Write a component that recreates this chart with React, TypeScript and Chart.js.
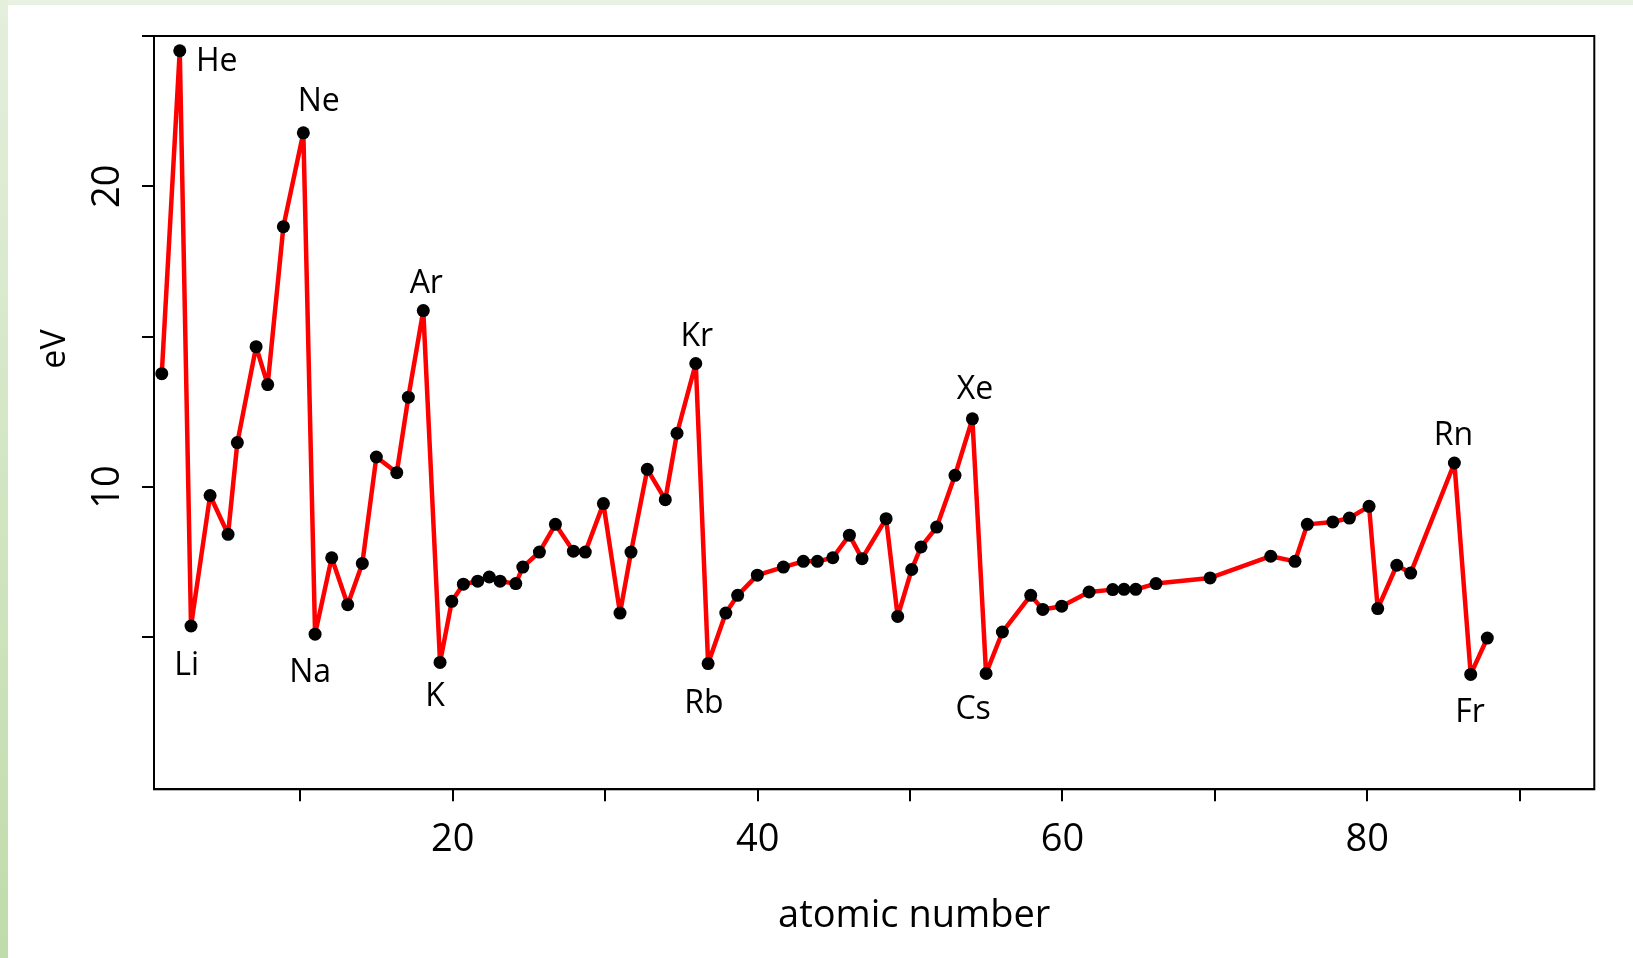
import React, { useEffect, useRef } from "react";
import { Chart, registerables } from "chart.js";

Chart.register(...registerables);

// x positions of the points (atomic number axis)
const atomicNumber = [
  0.9, 2.08, 2.82, 4.07, 5.25, 5.86, 7.09, 7.85, 8.88, 10.19,
  10.96, 12.05, 13.1, 14.06, 14.98, 16.32, 17.08, 18.06, 19.16, 19.93,
  20.69, 21.63, 22.39, 23.1, 24.13, 24.59, 25.68, 26.73, 27.91, 28.69,
  29.88, 30.97, 31.69, 32.76, 33.94, 34.71, 35.94, 36.75, 37.91, 38.69,
  39.98, 41.69, 43.0, 43.92, 44.93, 46.02, 46.85, 48.43, 49.19, 50.11,
  50.72, 51.75, 52.95, 54.09, 54.99, 56.06, 57.92, 58.71, 59.95, 61.75,
  63.3, 64.04, 64.81, 66.14, 69.69, 73.67, 75.26, 76.07, 77.74, 78.83,
  80.12, 80.69, 81.94, 82.85, 85.72, 86.79, 87.88,
];

// first ionization energy (eV)
const ionizationEV = [
  13.77, 24.51, 5.38, 9.72, 8.43, 11.48, 14.67, 13.41, 18.66, 21.78,
  5.11, 7.65, 6.09, 7.46, 11.0, 10.48, 12.99, 15.87, 4.17, 6.2,
  6.77, 6.87, 7.01, 6.87, 6.79, 7.34, 7.84, 8.76, 7.87, 7.84,
  9.45, 5.81, 7.84, 10.59, 9.58, 11.79, 14.11, 4.13, 5.81, 6.4,
  7.07, 7.34, 7.53, 7.53, 7.65, 8.4, 7.62, 8.95, 5.7, 7.26,
  8.01, 8.67, 10.39, 12.27, 3.8, 5.18, 6.4, 5.93, 6.04, 6.51,
  6.59, 6.6, 6.6, 6.79, 6.98, 7.7, 7.53, 8.76, 8.84, 8.97,
  9.36, 5.96, 7.4, 7.14, 10.8, 3.77, 4.98,
];

// tick labels
const xTickLabels = [20, 40, 60, 80];
const yTickLabels = [10, 20];

// element labels and which point they annotate
const elementNames = ["He", "Ne", "Ar", "Kr", "Xe", "Rn", "Li", "Na", "K", "Rb", "Cs", "Fr"];
const elementPointIndex = [1, 9, 17, 36, 53, 74, 2, 10, 18, 37, 54, 75];

// label placement (pixel offset of the text centre from its point)
const labelOffsetX = [37, 15.4, 3, 1, 2.7, -1, -4.3, -5, -5, -4.2, -13, -0.7];
const labelOffsetY = [9, -33, -29.2, -29.2, -31.6, -29.7, 37.1, 36.8, 31.7, 37.5, 34.2, 36];

const FONT = "'Open Sans', 'Noto Sans', sans-serif";

const overlayPlugin = {
  id: "overlay",
  afterDraw(chart: any) {
    const ctx = chart.ctx as CanvasRenderingContext2D;
    const { left, right, top, bottom } = chart.chartArea;
    const ys = chart.scales.y;
    ctx.save();
    // plot box
    ctx.strokeStyle = "#000";
    ctx.lineWidth = 2;
    ctx.strokeRect(left, top, right - left, bottom - top);

    ctx.fillStyle = "#000";
    // y tick labels (rotated, as in R)
    ctx.font = `38px ${FONT}`;
    ctx.textAlign = "center";
    ctx.textBaseline = "alphabetic";
    for (const v of yTickLabels) {
      const py = ys.getPixelForValue(v);
      ctx.save();
      ctx.translate(left - 34.7, py);
      ctx.rotate(-Math.PI / 2);
      ctx.fillText(String(v), 0, 0);
      ctx.restore();
    }

    // axis titles
    ctx.font = `38px ${FONT}`;
    ctx.fillText("atomic number", (left + right) / 2 + 40, bottom + 137.4);
    ctx.save();
    ctx.font = `34px ${FONT}`;
    ctx.translate(64.5, 349);
    ctx.rotate(-Math.PI / 2);
    ctx.fillText("eV", 0, 0);
    ctx.restore();

    // element labels
    const meta = chart.getDatasetMeta(0);
    ctx.font = `32px ${FONT}`;
    const capH = 32 * 0.714;
    elementNames.forEach((name, i) => {
      const el = meta.data[elementPointIndex[i]];
      if (!el) return;
      ctx.fillText(name, el.x + labelOffsetX[i], el.y + labelOffsetY[i] + capH / 2);
    });
    ctx.restore();
  },
};

export default function App() {
  const ref = useRef<HTMLCanvasElement>(null);

  useEffect(() => {
    const canvas = ref.current;
    if (!canvas) return;
    const points = atomicNumber.map((x, i) => ({ x, y: ionizationEV[i] }));
    const chart = new Chart(canvas, {
      type: "line",
      data: {
        datasets: [
          {
            data: points,
            borderColor: "#ff0000",
            borderWidth: 4.5,
            borderJoinStyle: "round",
            borderCapStyle: "round",
            pointRadius: 6.5,
            pointHoverRadius: 6.5,
            pointBackgroundColor: "#000",
            pointBorderColor: "#000",
            pointBorderWidth: 0,
            tension: 0,
            fill: false,
          },
        ],
      },
      options: {
        responsive: false,
        animation: false,
        devicePixelRatio: 1,
        events: [],
        layout: { padding: { left: 0, top: 36, right: 38.7, bottom: 0 } },
        plugins: { legend: { display: false }, tooltip: { enabled: false } },
        scales: {
          x: {
            type: "linear",
            min: 0.39,
            max: 94.9,
            afterFit: (s: any) => {
              s.height = 168.7;
            },
            ticks: {
              stepSize: 10,
              includeBounds: false,
              autoSkip: false,
              maxRotation: 0,
              minRotation: 0,
              padding: 16,
              color: "#000",
              font: { family: FONT, size: 38 },
              callback: (v: any) => (xTickLabels.includes(Number(v)) ? String(v) : ""),
            },
            grid: {
              drawOnChartArea: false,
              drawTicks: true,
              tickLength: 12,
              tickWidth: 2,
              tickColor: "#000",
              color: "#000",
              lineWidth: 2,
            },
            border: { display: true, color: "#000", width: 2 },
          },
          y: {
            type: "linear",
            min: -0.05,
            max: 25,
            afterFit: (s: any) => {
              s.width = 154;
            },
            ticks: {
              stepSize: 5,
              includeBounds: false,
              padding: 0,
              font: { family: FONT, size: 10 },
              callback: (v: any) => (Number(v) <= 0 ? null : ""),
            },
            grid: {
              drawOnChartArea: false,
              drawTicks: true,
              tickLength: 12,
              tickWidth: 2,
              tickColor: "#000",
              color: "#000",
              lineWidth: 2,
            },
            border: { display: true, color: "#000", width: 2 },
          },
        },
      },
      plugins: [overlayPlugin],
    });
    return () => chart.destroy();
  }, []);

  return (
    <div
      style={{
        position: "fixed",
        left: 0,
        top: 0,
        width: 1633,
        height: 958,
        background: "#ffffff",
        overflow: "hidden",
      }}
    >
      <div
        style={{
          position: "absolute",
          left: 0,
          top: 0,
          width: 1633,
          height: 5,
          background: "#e8f1e2",
        }}
      />
      <div
        style={{
          position: "absolute",
          left: 0,
          top: 0,
          width: 8,
          height: 958,
          background: "linear-gradient(#e4efdc, #c0dcaa)",
        }}
      />
      <canvas
        ref={ref}
        width={1633}
        height={958}
        style={{ position: "absolute", left: 0, top: 0, width: 1633, height: 958 }}
      />
    </div>
  );
}
